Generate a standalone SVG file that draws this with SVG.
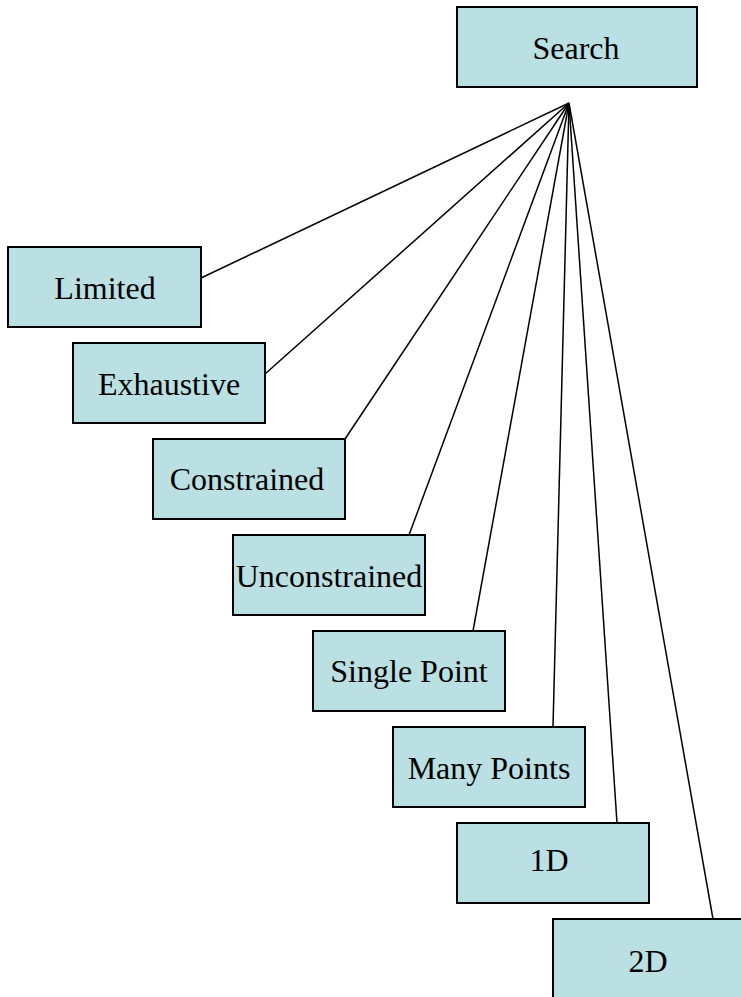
<svg xmlns="http://www.w3.org/2000/svg" width="741" height="997" viewBox="0 0 741 997">
<style>
.box{fill:#bbe0e3;stroke:#000;stroke-width:2}
.lbl{font-family:"Liberation Serif","Times New Roman",serif;font-size:32px;fill:#000;text-anchor:middle}
.con line{stroke:#000;stroke-width:1.5}
</style>
<rect width="741" height="997" fill="#fff"/>
<g class="con" id="connectors">
<line x1="569" y1="103" x2="201" y2="278"/>
<line x1="569" y1="103" x2="265" y2="374"/>
<line x1="569" y1="103" x2="345" y2="439"/>
<line x1="569" y1="103" x2="409" y2="535"/>
<line x1="569" y1="103" x2="473" y2="631"/>
<line x1="569" y1="103" x2="553" y2="727"/>
<line x1="569" y1="103" x2="617" y2="823"/>
<line x1="569" y1="103" x2="713" y2="919"/>
</g>
<g id="search"><rect class="box" x="457" y="7" width="240" height="80"/><text class="lbl" x="576" y="59">Search</text></g>
<g id="limited"><rect class="box" x="8" y="247" width="193" height="80"/><text class="lbl" x="105" y="299">Limited</text></g>
<g id="exhaustive"><rect class="box" x="73" y="343" width="192" height="80"/><text class="lbl" x="169" y="395">Exhaustive</text></g>
<g id="constrained"><rect class="box" x="153" y="439" width="192" height="80"/><text class="lbl" x="247" y="490">Constrained</text></g>
<g id="unconstrained"><rect class="box" x="233" y="535" width="192" height="80"/><text class="lbl" x="329" y="587">Unconstrained</text></g>
<g id="singlepoint"><rect class="box" x="313" y="631" width="192" height="80"/><text class="lbl" x="409" y="682">Single Point</text></g>
<g id="manypoints"><rect class="box" x="393" y="727" width="192" height="80"/><text class="lbl" x="489" y="779">Many Points</text></g>
<g id="d1"><rect class="box" x="457" y="823" width="192" height="80"/><text class="lbl" x="549" y="871">1D</text></g>
<g id="d2"><rect class="box" x="553" y="919" width="192" height="80"/><text class="lbl" x="648" y="972">2D</text></g>
</svg>
